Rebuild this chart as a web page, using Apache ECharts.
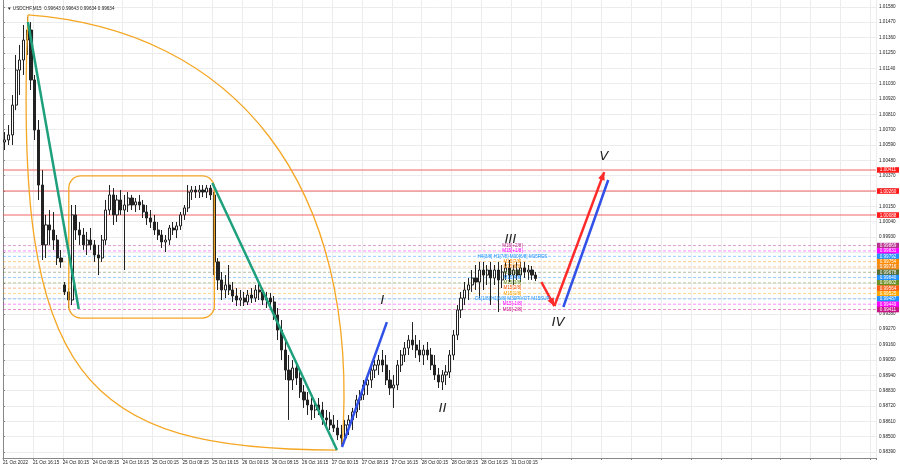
<!DOCTYPE html>
<html><head><meta charset="utf-8">
<script src="https://cdn.jsdelivr.net/npm/echarts@6/dist/echarts.min.js"></script>
<style>html,body{margin:0;padding:0;background:#fff}#c{width:900px;height:468px}</style>
</head><body><div id="c"></div>
<script>
const TITLE_TEXT = 'USDCHF,M15  0.99643 0.99643 0.99634 0.99634';
const TIME_LABELS = ['21 Oct 2022','21 Oct 16:15','24 Oct 00:15','24 Oct 08:15','24 Oct 16:15','25 Oct 00:15','25 Oct 08:15','25 Oct 16:15','26 Oct 00:15','26 Oct 08:15','26 Oct 16:15','27 Oct 00:15','27 Oct 08:15','27 Oct 16:15','28 Oct 00:15','28 Oct 08:15','28 Oct 16:15','31 Oct 00:15'];
const Y_TICKS = [0.98390,0.98500,0.98610,0.98720,0.98830,0.98940,0.99050,0.99160,0.99270,0.99380,0.99490,0.99600,0.99710,0.99820,0.99930,1.00040,1.00150,1.00260,1.00370,1.00480,1.00590,1.00700,1.00810,1.00920,1.01030,1.01140,1.01250,1.01360,1.01470,1.01580];

// H1-aggregated candles (one candle per 4 M15 bars)
const OPEN  = [1.00611,1.00626,1.00662,1.00876,1.01127,1.01199,1.01342,1.01414,1.01056,1.00697,1.00303,0.99874,1.00017,0.99981,0.99909,0.99780,0.99587,0.99537,0.99479,1.00089,0.99981,0.99945,0.99874,0.99909,0.99874,0.99802,0.99780,0.99909,1.00124,1.00232,1.00089,1.00196,1.00124,1.00160,1.00210,1.00160,1.00182,1.00160,1.00110,1.00067,1.00038,0.99981,0.99945,0.99895,0.99909,0.99995,0.99981,1.00010,1.00089,1.00139,1.00253,1.00267,1.00253,1.00267,1.00253,1.00281,1.00232,0.99752,0.99623,0.99551,0.99587,0.99551,0.99508,0.99479,0.99493,0.99465,0.99515,0.99493,0.99551,0.99537,0.99479,0.99493,0.99465,0.99372,0.99264,0.99121,0.98977,0.98906,0.98992,0.98920,0.98820,0.98763,0.98727,0.98691,0.98727,0.98691,0.98634,0.98620,0.98584,0.98562,0.98512,0.98490,0.98584,0.98620,0.98677,0.98763,0.98799,0.98870,0.98906,0.98977,0.99013,0.99049,0.99013,0.98906,0.98849,0.98870,0.99013,0.99085,0.99135,0.99192,0.99157,0.99121,0.99085,0.99121,0.99085,0.99013,0.98942,0.98892,0.98942,0.98963,0.99085,0.99228,0.99408,0.99493,0.99551,0.99587,0.99637,0.99608,0.99694,0.99658,0.99694,0.99637,0.99694,0.99623,0.99680,0.99709,0.99658,0.99694,0.99658,0.99709,0.99680,0.99694,0.99658];
const HIGH  = [1.00683,1.00733,1.00948,1.01235,1.01307,1.01450,1.01507,1.01471,1.01092,1.00769,1.00410,1.00089,1.00124,1.00110,0.99945,0.99838,0.99608,0.99565,1.00160,1.00160,1.00038,0.99995,0.99967,0.99995,0.99909,0.99874,0.99945,1.00196,1.00303,1.00281,1.00232,1.00267,1.00232,1.00253,1.00232,1.00210,1.00232,1.00196,1.00160,1.00124,1.00089,1.00038,0.99981,0.99945,1.00017,1.00038,1.00038,1.00110,1.00160,1.00303,1.00296,1.00296,1.00303,1.00303,1.00303,1.00303,1.00253,0.99780,0.99680,0.99658,0.99730,0.99608,0.99565,0.99551,0.99537,0.99551,0.99565,0.99587,0.99601,0.99565,0.99537,0.99530,0.99508,0.99422,0.99336,0.99192,0.99085,0.99049,0.99035,0.98977,0.98870,0.98820,0.98777,0.98763,0.98777,0.98749,0.98691,0.98677,0.98655,0.98620,0.98584,0.98620,0.98655,0.98706,0.98799,0.98834,0.98906,0.98942,0.99035,0.99049,0.99085,0.99121,0.99085,0.98977,0.98942,0.99049,0.99121,0.99178,0.99228,0.99321,0.99228,0.99192,0.99157,0.99178,0.99135,0.99085,0.98992,0.98977,0.99013,0.99121,0.99264,0.99443,0.99537,0.99608,0.99637,0.99694,0.99730,0.99752,0.99752,0.99730,0.99752,0.99730,0.99752,0.99730,0.99752,0.99766,0.99730,0.99752,0.99752,0.99752,0.99730,0.99723,0.99680];
const LOW   = [1.00554,1.00590,1.00590,1.00840,1.00948,1.01092,1.01235,1.00984,1.00626,1.00196,0.99766,0.99780,0.99874,0.99838,0.99730,0.99709,0.99515,0.99422,0.99443,0.99909,0.99874,0.99838,0.99802,0.99838,0.99752,0.99658,0.99752,0.99874,1.00089,1.00017,1.00038,1.00089,0.99694,1.00110,1.00124,1.00110,1.00124,1.00067,1.00017,0.99995,0.99945,0.99909,0.99852,0.99823,0.99874,0.99945,0.99923,0.99981,1.00053,1.00110,1.00196,1.00210,1.00210,1.00217,1.00210,1.00196,0.99658,0.99551,0.99479,0.99493,0.99515,0.99465,0.99436,0.99436,0.99436,0.99443,0.99458,0.99465,0.99479,0.99443,0.99422,0.99429,0.99336,0.99192,0.99049,0.98906,0.98620,0.98834,0.98870,0.98777,0.98706,0.98655,0.98620,0.98634,0.98655,0.98584,0.98562,0.98548,0.98533,0.98476,0.98433,0.98462,0.98512,0.98548,0.98634,0.98691,0.98763,0.98799,0.98849,0.98920,0.98942,0.98963,0.98870,0.98799,0.98706,0.98834,0.98963,0.99035,0.99085,0.99121,0.99064,0.99035,0.99013,0.99049,0.98977,0.98906,0.98849,0.98834,0.98870,0.98920,0.99049,0.99192,0.99350,0.99443,0.99479,0.99537,0.99551,0.99493,0.99551,0.99587,0.99443,0.99587,0.99393,0.99565,0.99623,0.99608,0.99587,0.99623,0.99608,0.99637,0.99623,0.99623,0.99615];
const CLOSE = [1.00626,1.00662,1.00876,1.01127,1.01199,1.01342,1.01414,1.01056,1.00697,1.00303,0.99874,1.00017,0.99981,0.99909,0.99780,0.99752,0.99537,0.99479,1.00089,0.99981,0.99945,0.99874,0.99909,0.99874,0.99802,0.99780,0.99909,1.00124,1.00232,1.00089,1.00196,1.00124,1.00160,1.00210,1.00160,1.00182,1.00160,1.00110,1.00067,1.00038,0.99981,0.99945,0.99895,0.99909,0.99995,0.99981,1.00010,1.00089,1.00139,1.00253,1.00267,1.00253,1.00267,1.00253,1.00281,1.00232,0.99752,0.99623,0.99551,0.99587,0.99551,0.99508,0.99479,0.99493,0.99465,0.99515,0.99493,0.99551,0.99537,0.99479,0.99493,0.99465,0.99372,0.99264,0.99121,0.98977,0.98906,0.98992,0.98920,0.98820,0.98763,0.98727,0.98691,0.98727,0.98691,0.98634,0.98620,0.98584,0.98562,0.98512,0.98490,0.98584,0.98620,0.98677,0.98763,0.98799,0.98870,0.98906,0.98977,0.99013,0.99049,0.99013,0.98906,0.98849,0.98870,0.99013,0.99085,0.99135,0.99192,0.99157,0.99121,0.99085,0.99121,0.99085,0.99013,0.98942,0.98892,0.98942,0.98963,0.99085,0.99228,0.99408,0.99493,0.99551,0.99587,0.99637,0.99608,0.99694,0.99658,0.99694,0.99637,0.99694,0.99623,0.99680,0.99709,0.99658,0.99694,0.99658,0.99709,0.99680,0.99694,0.99658,0.99634];

// horizontal levels
const RED_LEVELS = [1.00411, 1.00260, 1.00088];
const MURREY_PRICES = [0.99869,0.99831,0.99792,0.99754,0.99716,0.99678,0.99640,0.99602,0.99564,0.99525,0.99487,0.99449,0.99411];
const MURREY_TEXTS = ['M15[+2/8]','M15[+1/8]','H4[3/8] H1[7/8] M30[6/8] M15RES','M15[7/8]','M15[6/8]','M15[5/8]','M15[4/8]','M15[3/8]','M15[2/8]','M15[1/8]','D1[1/8] H1[6/8] M30PIVOT M15SUP','M15[-1/8]','M15[-2/8]'];
const MURREY_COLORS = ['#b8308f','#ff00ff','#1e90ff','#ff8c00','#f08a1a','#556b2f','#1e90ff','#6b8e23','#ff5a10','#ffa500','#1e90ff','#ff00ff','#c71585'];

// drawing objects, anchored in (M15 bar index, price)
const ORANGE_RECT = [[70.4, 1.00368], [226.1, 0.99350]];
const ORANGE_ARC_LEFT = [[26.7, 1.01522], [10.7, 0.98906], [85.3, 0.98404], [357.3, 0.98404]];
const ORANGE_ARC_RIGHT = [[26.7, 1.01522], [245.3, 1.01414], [384.0, 1.00339], [362.7, 0.98426]];
const GREEN_LINES = [[[26.7, 1.01471], [81.0, 0.99415]], [[224.0, 1.00318], [357.3, 0.98404]]];
const BLUE_LINES = [[[362.7, 0.98426], [410.7, 0.99321]], [[599.5, 0.99429], [647.5, 1.00339]]];
const RED_ARROWS = [[[576.0, 0.99608], [589.9, 0.99436]], [[589.9, 0.99436], [643.2, 1.00396]]];
const WAVE_LABELS = ['I', 'II', 'III', 'IV', 'V'];
const WAVE_POS = [[406, 0.99472], [470.4, 0.98698], [543, 0.99909], [594, 0.99314], [643, 1.00504]];
const MURREY_TEXT_X = 545;

const X_MIN = 0, X_MAX = 934;
const M15_PER_CANDLE = 4;
const candleData = OPEN.map((o, i) => [i * M15_PER_CANDLE + 2, o, CLOSE[i], LOW[i], HIGH[i]]);

const FONT = 'Liberation Sans, Arial, sans-serif';
const SMALL = 4.6;

function renderLevels(params, api) {
  const ch = [];
  const addLevel = (v, col, dashed, labelBg) => {
    const a = api.coord([X_MIN, v]), b = api.coord([X_MAX, v]);
    ch.push({ type: 'line', shape: { x1: a[0], y1: a[1], x2: b[0], y2: b[1] },
      style: dashed ? { stroke: col, lineWidth: 1, opacity: 0.45, lineDash: [3, 2] } : { stroke: 'rgba(240,70,70,0.55)', lineWidth: 1.5 } });
    ch.push({ type: 'rect', shape: { x: b[0] + 1, y: b[1] - 2.8, width: 22, height: 5.6 }, style: { fill: labelBg }, z2: 10 });
    ch.push({ type: 'text', style: { text: v.toFixed(5), x: b[0] + 12, y: b[1] + 0.2, fill: '#fff', font: SMALL + 'px ' + FONT, align: 'center', verticalAlign: 'middle' }, z2: 11 });
  };
  RED_LEVELS.forEach(v => addLevel(v, null, false, '#ff1a1a'));
  MURREY_PRICES.forEach((v, i) => addLevel(v, MURREY_COLORS[i], true, MURREY_COLORS[i]));
  return { type: 'group', children: ch };
}

function renderDrawings(params, api) {
  const c = p => api.coord(p);
  const ch = [];
  const orange = '#f5a623';
  const r0 = c(ORANGE_RECT[0]), r1 = c(ORANGE_RECT[1]);
  ch.push({ type: 'rect', shape: { x: r0[0], y: r0[1], width: r1[0] - r0[0], height: r1[1] - r0[1], r: 12 },
    style: { fill: 'none', stroke: orange, lineWidth: 1.3 } });
  [ORANGE_ARC_LEFT, ORANGE_ARC_RIGHT].forEach(a => {
    const p = a.map(c);
    ch.push({ type: 'bezierCurve', shape: { x1: p[0][0], y1: p[0][1], cpx1: p[1][0], cpy1: p[1][1], cpx2: p[2][0], cpy2: p[2][1], x2: p[3][0], y2: p[3][1] },
      style: { fill: 'none', stroke: orange, lineWidth: 1.3 } });
  });
  const seg = (s, col, w) => {
    const a = c(s[0]), b = c(s[1]);
    ch.push({ type: 'line', shape: { x1: a[0], y1: a[1], x2: b[0], y2: b[1] }, style: { stroke: col, lineWidth: w } });
    return [a, b];
  };
  GREEN_LINES.forEach(s => seg(s, '#1fa07c', 2.5));
  BLUE_LINES.forEach(s => seg(s, '#3050e8', 2.5));
  RED_ARROWS.forEach(s => {
    const [a, b] = seg(s, '#ff2a2a', 2.5);
    const dx = b[0] - a[0], dy = b[1] - a[1], L = Math.hypot(dx, dy);
    const ux = dx / L, uy = dy / L, len = 8, hw = 3.5;
    const bx = b[0] - ux * len, by = b[1] - uy * len;
    ch.push({ type: 'polygon', shape: { points: [[b[0], b[1]], [bx - uy * hw, by + ux * hw], [bx + uy * hw, by - ux * hw]] },
      style: { fill: '#ff2a2a' } });
  });
  WAVE_LABELS.forEach((t, i) => {
    const p = c(WAVE_POS[i]);
    ch.push({ type: 'text', style: { text: t, x: p[0], y: p[1], fill: '#222', font: 'italic 13px DejaVu Sans', align: 'center', verticalAlign: 'middle' } });
  });
  MURREY_TEXTS.forEach((t, i) => {
    const p = c([MURREY_TEXT_X, MURREY_PRICES[i]]);
    ch.push({ type: 'text', style: { text: t, x: p[0], y: p[1], fill: MURREY_COLORS[i], font: SMALL + 'px ' + FONT, align: 'center', verticalAlign: 'middle' } });
  });
  return { type: 'group', children: ch };
}

const chart = echarts.init(document.getElementById('c'), null, { renderer: 'canvas' });
chart.setOption({
  animation: false,
  backgroundColor: '#ffffff',
  title: { text: '\u25BC ' + TITLE_TEXT, left: 2, top: 1, textStyle: { fontSize: SMALL, fontWeight: 'normal', color: '#222', fontFamily: FONT } },
  grid: { left: 0, right: 24, top: 0, bottom: 10 },
  xAxis: {
    type: 'value', min: X_MIN, max: X_MAX, interval: 32,
    axisLine: { show: true, lineStyle: { color: '#888' } },
    axisTick: { show: true, length: 2, lineStyle: { color: '#888' } },
    splitLine: { show: true, lineStyle: { color: '#ececec' } },
    axisLabel: { formatter: v => TIME_LABELS[Math.round(v / 32)] || '', align: 'left', margin: 2, fontSize: SMALL, color: '#222', fontFamily: FONT, showMinLabel: true, showMaxLabel: true, hideOverlap: false }
  },
  yAxis: {
    type: 'value', position: 'right', min: 0.98347, max: 1.01629, scale: true,
    axisLine: { show: true, lineStyle: { color: '#888' } },
    axisTick: { show: true, length: 2, customValues: Y_TICKS, lineStyle: { color: '#888' } },
    splitLine: { show: true, lineStyle: { color: '#ececec' } },
    axisLabel: { customValues: Y_TICKS, formatter: v => v.toFixed(5), margin: 3, fontSize: SMALL, color: '#222', fontFamily: FONT }
  },
  series: [
    { type: 'custom', renderItem: renderLevels, data: [[300, 1.0]], encode: { x: 0, y: 1 }, clip: false, z: 2, silent: true },
    {
      type: 'candlestick', data: candleData, encode: { x: 0, y: [1, 2, 3, 4] }, barWidth: 2.6,
      itemStyle: { color: '#ffffff', color0: '#222', borderColor: '#222', borderColor0: '#222', borderWidth: 1 },
      z: 3
    },
    { type: 'custom', renderItem: renderDrawings, data: [[300, 1.0]], encode: { x: 0, y: 1 }, clip: true, z: 4, silent: true }
  ]
});
</script></body></html>
